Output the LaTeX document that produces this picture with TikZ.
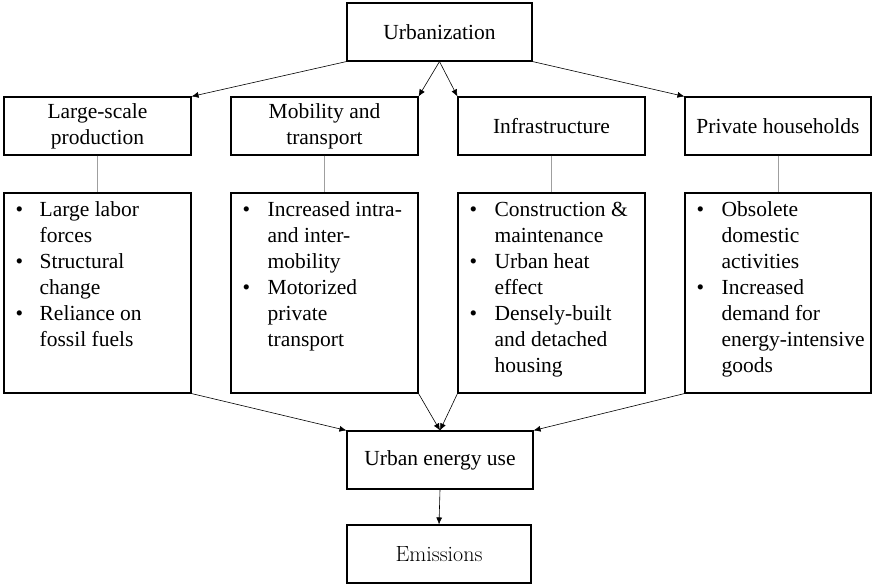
\documentclass[tikz,border=0pt]{standalone}
\usepackage{fontspec}
\setmainfont{Liberation Serif}
\newfontfamily\lmfont{Latin Modern Roman}
\usetikzlibrary{arrows.meta,calc}
\begin{document}
\begin{tikzpicture}[x=1pt,y=-1pt,
  box/.style={draw, line width=1.1pt, minimum width=187pt, minimum height=58pt, inner sep=0pt, align=center, font=\fontsize{21.5}{26}\selectfont},
  lowbox/.style={draw, line width=1.1pt, minimum width=187pt, minimum height=200pt, inner sep=0pt},
  bullets/.style={anchor=north west, inner sep=0pt, font=\fontsize{21.5}{26}\selectfont},
  arr/.style={line width=0.6pt, -{Latex[length=7pt,width=6pt]}},
  link/.style={draw=gray!75, line width=0.8pt}]
\useasboundingbox (0,0) rectangle (872,585);

\node[box, minimum width=185pt] (urb) at (439.5,32) {Urbanization};

\node[box] (t1) at (97.5,126) {Large-scale\\production};
\node[box] (t2) at (324.5,126) {Mobility and\\transport};
\node[box] (t3) at (551.5,126) {Infrastructure};
\node[box, minimum width=186pt] (t4) at (778,126) {Private households};

\node[lowbox] (l1) at (97.5,293) {};
\node[lowbox] (l2) at (324.5,293) {};
\node[lowbox] (l3) at (551.5,293) {};
\node[lowbox, minimum width=186pt] (l4) at (778,293) {};

\node[bullets] (x1) at ($(l1.north west)+(12,6)$) {\begin{tabular}{@{}p{24pt}@{}l@{}}
\textbullet & Large labor\\ & forces\\ \textbullet & Structural\\ & change\\ \textbullet & Reliance on\\ & fossil fuels\end{tabular}};
\node[bullets] (x2) at ($(l2.north west)+(12,6)$) {\begin{tabular}{@{}p{25pt}@{}l@{}}
\textbullet & Increased intra-\\ & and inter-\\ & mobility\\ \textbullet & Motorized\\ & private\\ & transport\end{tabular}};
\node[bullets] (x3) at ($(l3.north west)+(12,6)$) {\begin{tabular}{@{}p{25pt}@{}l@{}}
\textbullet & Construction \&\\ & maintenance\\ \textbullet & Urban heat\\ & effect\\ \textbullet & Densely-built\\ & and detached\\ & housing\end{tabular}};
\node[bullets] (x4) at ($(l4.north west)+(12,6)$) {\begin{tabular}{@{}p{25pt}@{}l@{}}
\textbullet & Obsolete\\ & domestic\\ & activities\\ \textbullet & Increased\\ & demand for\\ & energy-intensive\\ & goods\end{tabular}};

\node[box, minimum width=186pt] (eng) at (440,460) {Urban energy use};
\node[box, minimum width=184pt, font=\lmfont\fontsize{22}{26}\selectfont] (emi) at (439,554) {Emissions};

\draw[arr] (urb.south west) -- (t1.north east);
\draw[arr] (urb.south) -- (t2.north east);
\draw[arr] (urb.south) -- (t3.north west);
\draw[arr] (urb.south east) -- (t4.north west);

\draw[link] (t1.south) -- (l1.north);
\draw[link] (t2.south) -- (l2.north);
\draw[link] (t3.south) -- (l3.north);
\draw[link] (t4.south) -- (l4.north);

\draw[arr] (l1.south east) -- (eng.north west);
\draw[arr] (l2.south east) -- (eng.north);
\draw[arr] (l3.south west) -- (eng.north);
\draw[arr] (l4.south west) -- (eng.north east);

\draw[arr] (eng.south) -- (emi.north);
\end{tikzpicture}
\end{document}
